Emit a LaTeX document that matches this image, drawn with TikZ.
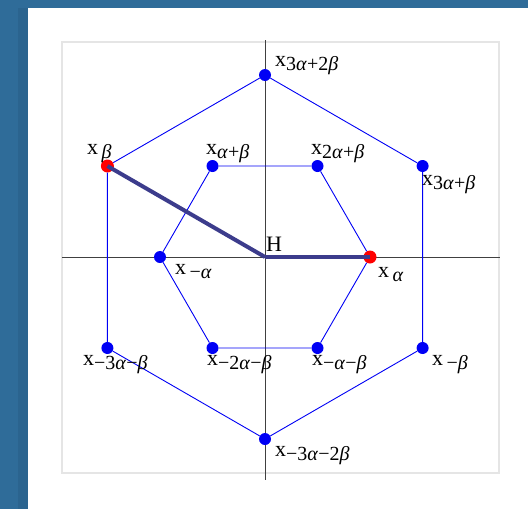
\documentclass[tikz,border=0pt]{standalone}
\usepackage{fontspec}
\setmainfont{Liberation Serif}
\usepackage{xcolor}
\usetikzlibrary{positioning}

\definecolor{pagebg}{RGB}{47,108,153}
\definecolor{pageshade}{RGB}{43,100,143}
\definecolor{rootblue}{RGB}{0,0,245}
\definecolor{cartan}{RGB}{60,60,140}

\newcommand{\xr}[1]{x\raisebox{-4pt}{\fontsize{20}{22}\selectfont #1}}
\newcommand{\ga}{\textit{α}}
\newcommand{\gb}{\textit{β}}

\begin{document}
\begin{tikzpicture}[x=1pt,y=1pt,yscale=-1,xscale=1,
    rootdot/.style={circle,fill=rootblue,inner sep=0pt,minimum size=12pt},
    simpledot/.style={circle,fill=red,inner sep=0pt,minimum size=13pt},
    hexedge/.style={draw=rootblue,line width=0.9pt},
    lbl/.style={anchor=west,inner sep=0pt,font=\fontsize{22}{24}\selectfont}]
                \useasboundingbox (0,0) rectangle (528,509);
                %Background
                \fill [pagebg] (0,0) rectangle (528,509);
                \fill [pageshade] (18,8) rectangle (28,509);
                \fill [white] (28,8) rectangle (528,509);
                %Frame
                \draw [gray!20,line width=1.2pt] (62,42) rectangle (499,473);
                %Axes
                \draw [black!75,line width=0.7pt] (62,257) -- (500,257);
                \draw [black!75,line width=0.7pt] (265,40) -- (265,480);
                %Roots
                \node [simpledot] (ra) at (370,257) {};
                \node [simpledot] (rb) at (107.4,166) {};
                \node [rootdot] (rab) at (212.5,166) {};
                \node [rootdot] (r2ab) at (317.5,166) {};
                \node [rootdot] (r3ab) at (422.6,166) {};
                \node [rootdot] (r3a2b) at (265,75) {};
                \node [rootdot] (rma) at (160,257) {};
                \node [rootdot] (rmb) at (422.6,348) {};
                \node [rootdot] (rmab) at (317.5,348) {};
                \node [rootdot] (rm2ab) at (212.5,348) {};
                \node [rootdot] (rm3ab) at (107.4,348) {};
                \node [rootdot] (rm3a2b) at (265,439) {};
                \coordinate (H) at (265,257);
                %Outer hexagon
                \draw [hexedge] (r3a2b) -- (r3ab) -- (rmb) -- (rm3a2b) -- (rm3ab) -- (rb) -- (r3a2b);
                %Inner hexagon
                \draw [hexedge] (rab) -- (r2ab) -- (ra) -- (rmab) -- (rm2ab) -- (rma) -- (rab);
                %Simple roots
                \draw [cartan,line width=4pt] (H) -- (ra.center);
                \draw [cartan,line width=4pt] (H) -- (rb.center);
                %Labels
                \node [lbl] (lH) at (266,244) {H};
                \node [lbl] (la) at (378,275) {\xr{\,\ga}};
                \node [lbl] (lb) at (87,154) {\xr{\,\gb}};
                \node [lbl] (lab) at (206,154) {\xr{\ga+\gb}};
                \node [lbl] (l2ab) at (311,154) {\xr{2\ga+\gb}};
                \node [lbl] (l3ab) at (422,185) {\xr{3\ga+\gb}};
                \node [lbl] (l3a2b) at (275,66) {\xr{3\ga+2\gb}};
                \node [lbl] (lma) at (175,272) {\xr{\,−\ga}};
                \node [lbl] (lmb) at (432,365) {\xr{\,−\gb}};
                \node [lbl] (lmab) at (312,365) {\xr{−\ga−\gb}};
                \node [lbl] (lm2ab) at (207,365) {\xr{−2\ga−\gb}};
                \node [lbl] (lm3ab) at (83,365) {\xr{−3\ga−\gb}};
                \node [lbl] (lm3a2b) at (275,456) {\xr{−3\ga−2\gb}};
\end{tikzpicture}
\end{document}
